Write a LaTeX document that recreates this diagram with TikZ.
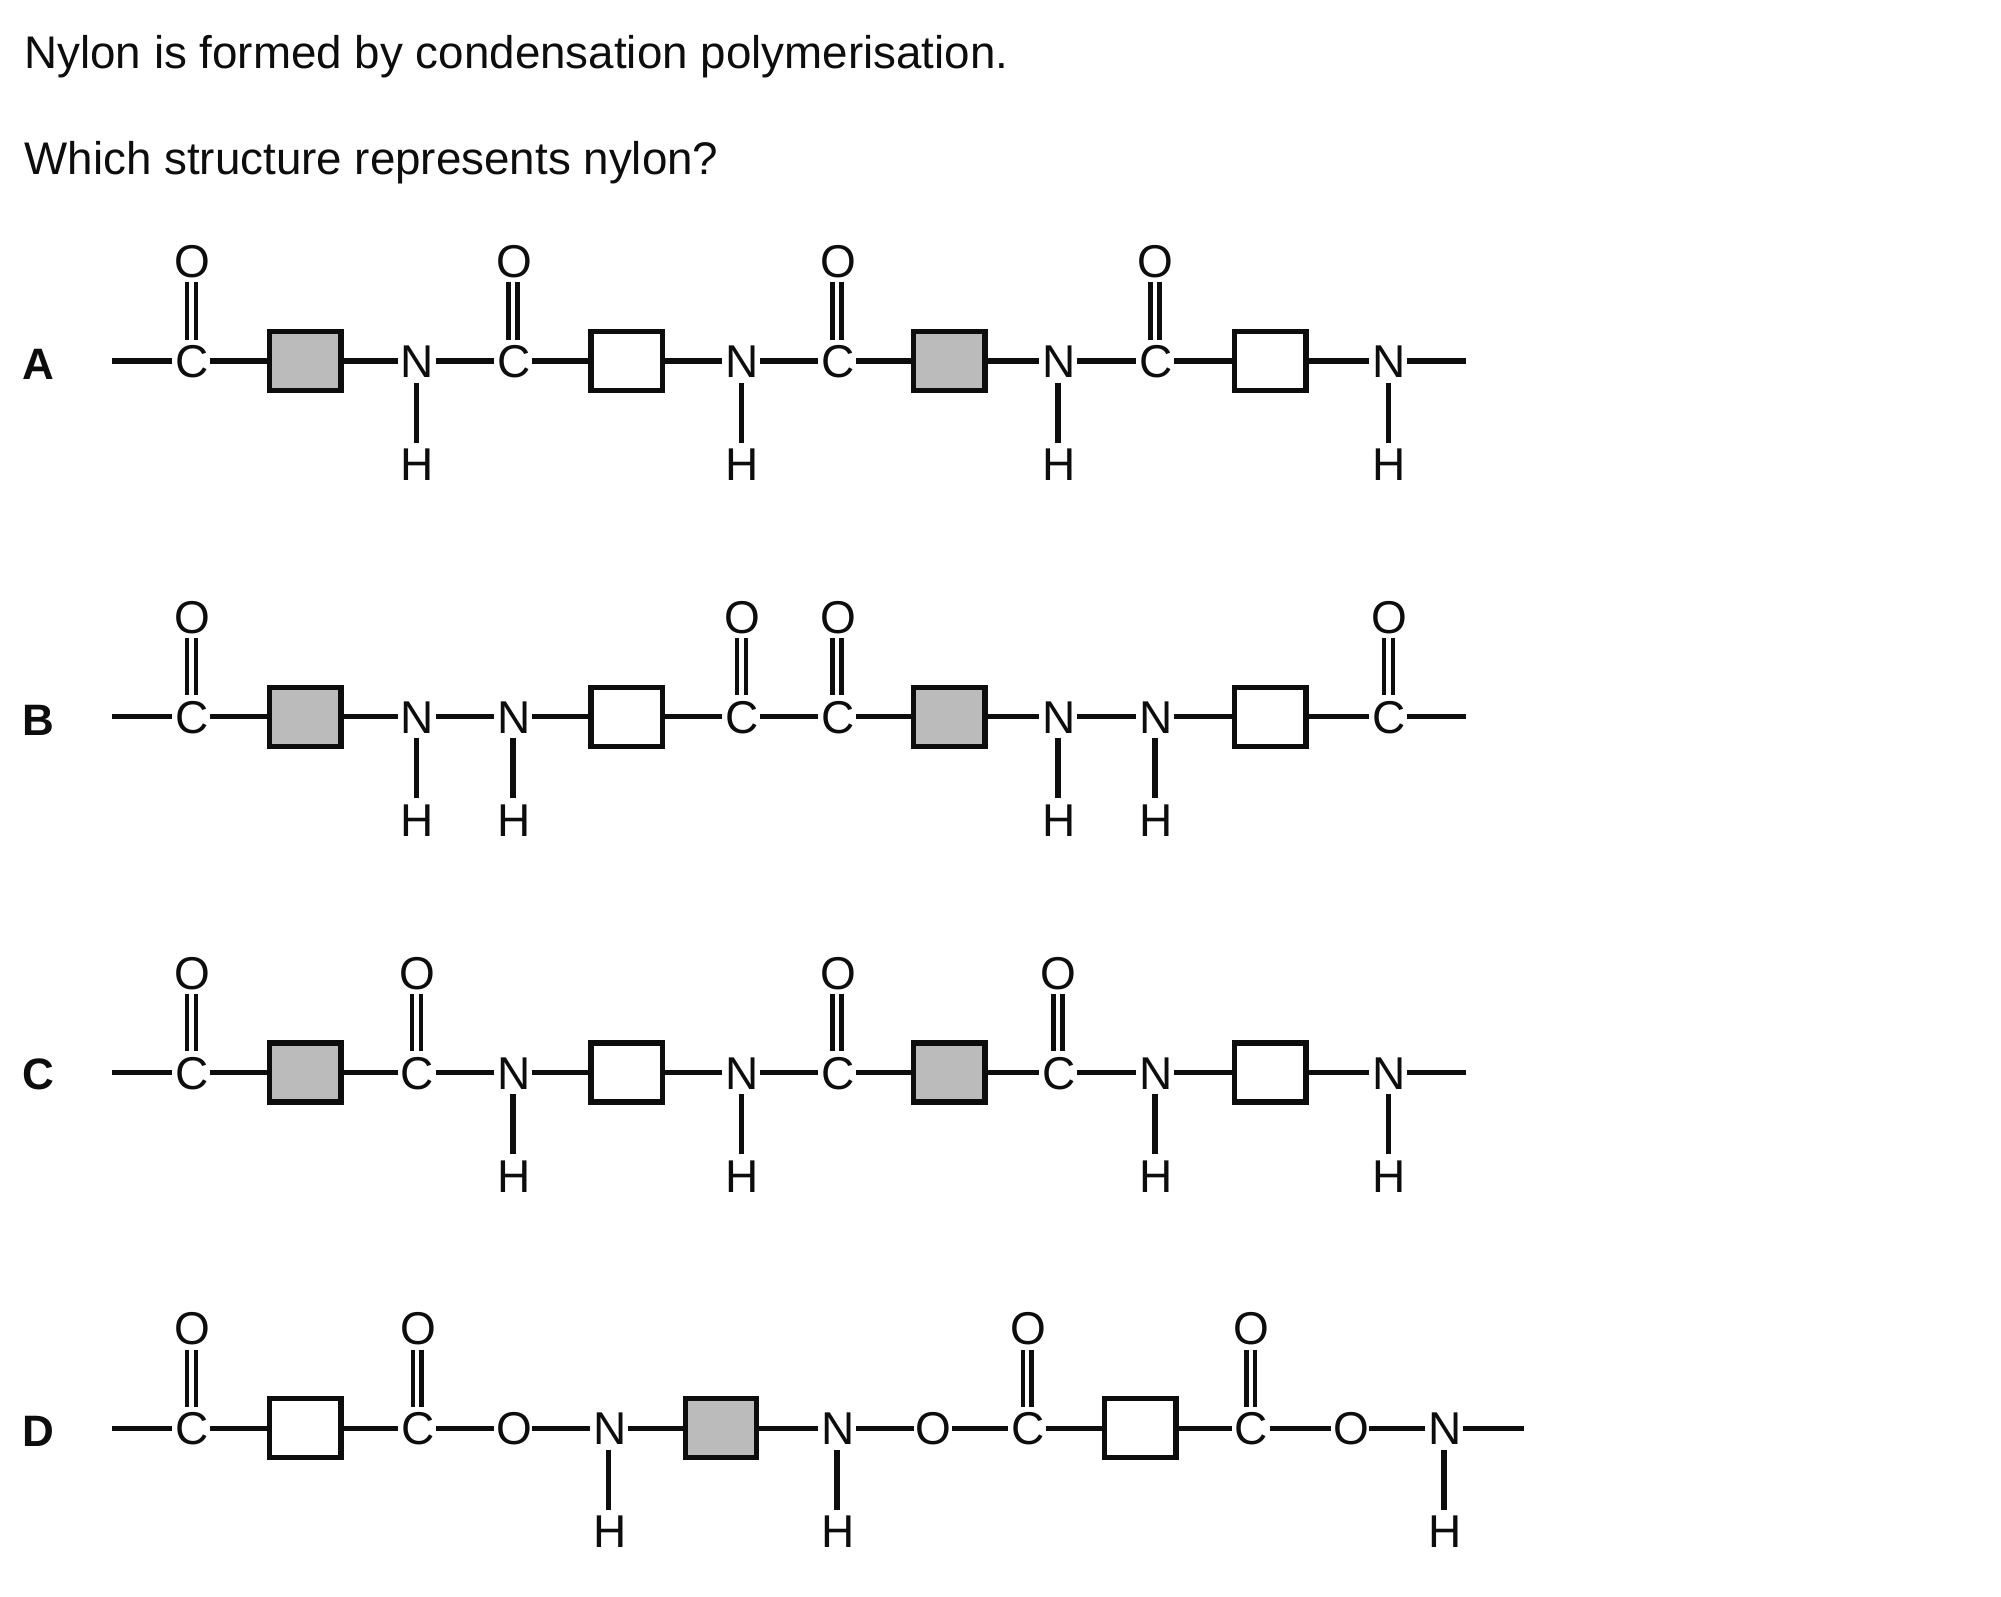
\documentclass[tikz,border=0pt]{standalone}
\usepackage{fontspec}
\setmainfont{Liberation Sans}
\definecolor{ink}{HTML}{0D0D0D}
\definecolor{boxgrey}{HTML}{BBBBBB}
\tikzset{
  atom/.style={inner sep=0pt,outer sep=0pt,minimum width=28.5pt,minimum height=32.25pt,
    text height=25pt,text depth=0pt,text=ink,font=\fontsize{34.5}{40}\selectfont,
    execute at begin node={\hspace*{1.4pt}}},
  unitbox/.style={draw=ink,line width=4pt,minimum width=53.5pt,minimum height=44.25pt,inner sep=0pt},
  greybox/.style={unitbox,fill=boxgrey},
  whitebox/.style={unitbox,fill=white},
  bond/.style={draw=ink,line width=4pt},
  dblbond/.style={draw=ink,line width=3.4pt},
  rowlabel/.style={inner sep=0pt,text=ink,font=\bfseries\fontsize{33}{40}\selectfont,text height=24pt,text depth=0pt},
  question/.style={anchor=base west,inner sep=0pt,text=ink,font=\fontsize{34.3}{40}\selectfont}
}
% carbonyl: name, x, y
\newcommand{\carbonyl}[3]{%
  \node[atom] (#1) at (#2,#3) {C};
  \node[atom] (#1o) at (#2,{#3-78.4}) {O};
  \draw[dblbond] ([xshift=-3.3pt]#1.north) -- ([xshift=-3.3pt]#1o.south);
  \draw[dblbond] ([xshift=3.3pt]#1.north) -- ([xshift=3.3pt]#1o.south);
}
% amine: name, x, y
\newcommand{\amine}[3]{%
  \node[atom] (#1) at (#2,#3) {N};
  \node[atom] (#1h) at (#2,{#3+80.7}) {H};
  \draw[bond] (#1) -- (#1h);
}
\newcommand{\bonds}[1]{\foreach \p/\q in {#1}{\draw[bond] (\p) -- (\q);}}
\begin{document}
\begin{tikzpicture}[x=0.75pt*1.2761,y=-0.75pt*1.2761]
\useasboundingbox (0,0) rectangle (1568,1251.4);
\node[question] (q1) at (19,54) {Nylon is formed by condensation polymerisation.};
\node[question] (q2) at (19,137) {Which structure represents nylon?};
% Row A
\def\ry{282.9}
\node[rowlabel] (la) at (30,{\ry+2}) {A};
\coordinate (as) at (88,\ry); \coordinate (ae) at (1149,\ry);
\carbonyl{a1}{150}{\ry}
\node[greybox] (ab1) at (239.3,\ry) {};
\amine{a2}{326.4}{\ry}
\carbonyl{a3}{402}{\ry}
\node[whitebox] (ab2) at (491,\ry) {};
\amine{a4}{581}{\ry}
\carbonyl{a5}{656}{\ry}
\node[greybox] (ab3) at (744,\ry) {};
\amine{a6}{829}{\ry}
\carbonyl{a7}{905}{\ry}
\node[whitebox] (ab4) at (995.5,\ry) {};
\amine{a8}{1088}{\ry}
\bonds{as/a1,a1/ab1,ab1/a2,a2/a3,a3/ab2,ab2/a4,a4/a5,a5/ab3,ab3/a6,a6/a7,a7/ab4,ab4/a8,a8/ae}
% Row B
\def\ry{561.6}
\node[rowlabel] (lb) at (30,{\ry+2}) {B};
\coordinate (bs) at (88,\ry); \coordinate (be) at (1149,\ry);
\carbonyl{b1}{150}{\ry}
\node[greybox] (bb1) at (239.3,\ry) {};
\amine{b2}{326.4}{\ry}
\amine{b3}{402}{\ry}
\node[whitebox] (bb2) at (491,\ry) {};
\carbonyl{b4}{581}{\ry}
\carbonyl{b5}{656}{\ry}
\node[greybox] (bb3) at (744,\ry) {};
\amine{b6}{829}{\ry}
\amine{b7}{905}{\ry}
\node[whitebox] (bb4) at (995.5,\ry) {};
\carbonyl{b8}{1088}{\ry}
\bonds{bs/b1,b1/bb1,bb1/b2,b2/b3,b3/bb2,bb2/b4,b4/b5,b5/bb3,bb3/b6,b6/b7,b7/bb4,bb4/b8,b8/be}
% Row C
\def\ry{840.4}
\node[rowlabel] (lc) at (30,{\ry+1}) {C};
\coordinate (cs) at (88,\ry); \coordinate (ce) at (1149,\ry);
\carbonyl{c1}{150}{\ry}
\node[greybox] (cb1) at (239.3,\ry) {};
\carbonyl{c2}{326.4}{\ry}
\amine{c3}{402}{\ry}
\node[whitebox] (cb2) at (491,\ry) {};
\amine{c4}{581}{\ry}
\carbonyl{c5}{656}{\ry}
\node[greybox] (cb3) at (744,\ry) {};
\carbonyl{c6}{829}{\ry}
\amine{c7}{905}{\ry}
\node[whitebox] (cb4) at (995.5,\ry) {};
\amine{c8}{1088}{\ry}
\bonds{cs/c1,c1/cb1,cb1/c2,c2/c3,c3/cb2,cb2/c4,c4/c5,c5/cb3,cb3/c6,c6/c7,c7/cb4,cb4/c8,c8/ce}
% Row D
\def\ry{1119.2}
\node[rowlabel] (ld) at (30,{\ry+2}) {D};
\coordinate (ds) at (88,\ry); \coordinate (de) at (1194,\ry);
\carbonyl{d1}{150}{\ry}
\node[whitebox] (db1) at (239.3,\ry) {};
\carbonyl{d2}{327}{\ry}
\node[atom] (d3) at (402,\ry) {O};
\amine{d4}{477}{\ry}
\node[greybox] (db2) at (565,\ry) {};
\amine{d5}{656}{\ry}
\node[atom] (d6) at (731,\ry) {O};
\carbonyl{d7}{805}{\ry}
\node[whitebox] (db3) at (893.5,\ry) {};
\carbonyl{d8}{980}{\ry}
\node[atom] (d9) at (1058,\ry) {O};
\amine{d10}{1131.5}{\ry}
\bonds{ds/d1,d1/db1,db1/d2,d2/d3,d3/d4,d4/db2,db2/d5,d5/d6,d6/d7,d7/db3,db3/d8,d8/d9,d9/d10,d10/de}
\end{tikzpicture}
\end{document}
